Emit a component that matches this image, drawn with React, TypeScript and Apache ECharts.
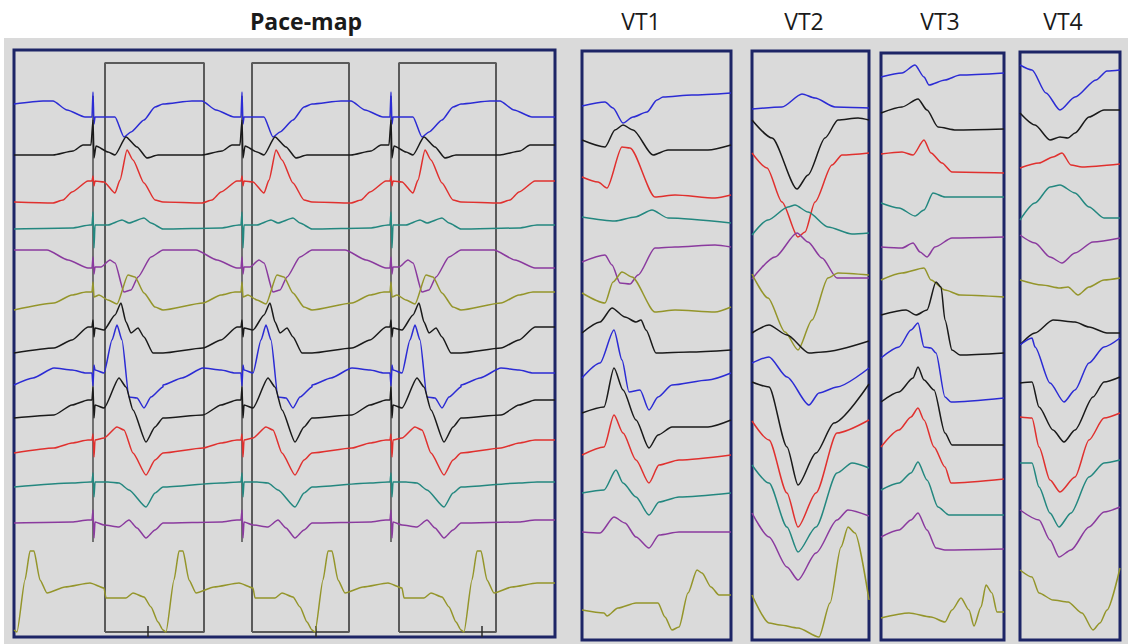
import { useEffect, useRef } from "react";
import * as echarts from "echarts";

// ---------- colours of the 13 leads (top to bottom) ----------
const leadColors = [
  "#2b2bd4", "#1a1a1a", "#e0302e", "#23877f", "#8a3a9e", "#94952a",
  "#1a1a1a", "#2b2bd4", "#1a1a1a", "#e0302e", "#23877f", "#8a3a9e", "#94952a",
];

// ---------- Pace-map: one beat template per lead, [t relative to pacing spike, level] ----------
const paceSpikes = [93, 242, 391];
const pacePeriod = 149;
const paceEnd = 555;
const paceBeat: number[][][] = [
  [[-79,104],[-50,101],[-40,101],[-26,110],[-8,117],[-1,117],[0,92],[1,124],[2,117],[22,117],[31,137],[38,132],[51,120],[62,107],[70,104]],
  [[-79,155],[-40,155],[-20,151],[-10,145],[-2,145],[0,120],[1,158],[3,146],[15,152],[22,155],[33,137],[44,147],[54,158],[65,155],[70,155]],
  [[-79,202],[-40,203],[-30,200],[-21,192],[-5,181],[-1,181],[0,176],[1,186],[2,181],[11,182],[22,193],[27,180],[34,150],[40,160],[51,183],[62,200],[70,202]],
  [[-79,229],[-21,228],[-3,225],[-1,225],[0,212],[1,248],[2,225],[15,225],[29,220],[36,223],[51,218],[58,223],[70,229]],
  [[-79,250],[-46,250],[-25,260],[-5,268],[-1,268],[0,257],[1,274],[2,267],[8,267],[17,260],[22,263],[31,292],[38,290],[45,277],[58,257],[70,250]],
  [[-79,310],[-39,303],[-21,295],[-7,292],[-1,292],[0,282],[1,297],[6,295],[15,300],[24,304],[35,275],[42,277],[51,293],[62,307],[70,310]],
  [[-79,353],[-39,348],[-21,340],[-5,327],[-1,327],[0,320],[1,337],[2,328],[11,330],[22,315],[28,303],[33,322],[38,333],[45,328],[51,337],[60,353],[70,353]],
  [[-79,385],[-60,378],[-39,368],[-21,370],[-7,373],[-1,373],[0,386],[1,365],[2,370],[11,373],[19,340],[24,325],[29,340],[36,397],[44,398],[51,408],[58,397],[70,387]],
  [[-79,418],[-39,415],[-21,405],[-5,400],[-1,400],[0,387],[1,418],[2,405],[11,408],[26,378],[33,387],[40,410],[53,442],[62,427],[70,418]],
  [[-79,453],[-39,448],[-21,443],[-5,440],[-1,440],[0,434],[1,457],[2,440],[11,438],[24,427],[31,430],[40,453],[53,475],[62,460],[70,453]],
  [[-79,487],[-21,483],[-3,482],[-1,482],[0,473],[1,497],[2,482],[15,482],[26,483],[36,490],[53,507],[62,493],[70,487]],
  [[-79,523],[-21,522],[-5,520],[-1,520],[0,510],[1,538],[2,522],[11,525],[26,527],[36,520],[44,528],[53,538],[62,530],[70,523]],
  [[-79,630],[-76,632],[-68,580],[-63,551],[-59,551],[-53,580],[-46,593],[-28,587],[-3,583],[11,588],[13,598],[33,598],[40,593],[51,597],[58,607],[65,622],[70,630]],
];
const paceWindowStarts = [105, 252, 399];
const paceWindowEnds = [204, 349, 496];
const paceWindowTop = 63;
const paceWindowBottom = 632;
const spikeMarkerTop = 96;
const spikeMarkerBottom = 542;
const paceTicks = [148, 316, 482];

// ---------- VT panels: [time, level] per lead ----------
const vt1: number[][][] = [
  [[582,106],[605,102],[613,108],[623,123],[633,117],[647,112],[657,100],[663,97],[692,95],[731,93]],
  [[582,140],[605,147],[615,130],[623,125],[633,130],[653,155],[668,150],[708,150],[731,145]],
  [[582,177],[598,182],[607,188],[622,147],[630,148],[655,197],[675,195],[715,198],[731,195]],
  [[582,217],[615,221],[635,217],[652,210],[668,218],[731,223]],
  [[582,262],[605,255],[612,265],[620,283],[630,284],[638,275],[655,248],[675,247],[715,245],[731,247]],
  [[582,293],[605,303],[613,282],[622,272],[632,277],[655,312],[675,310],[715,312],[731,307]],
  [[582,333],[600,322],[612,308],[625,317],[636,322],[641,320],[646,330],[656,353],[690,352],[731,350]],
  [[582,378],[600,363],[614,330],[622,360],[629,392],[640,390],[649,410],[658,397],[672,385],[708,380],[731,373]],
  [[582,413],[604,407],[614,368],[623,390],[636,420],[649,448],[658,435],[672,427],[708,427],[731,420]],
  [[582,455],[604,447],[614,415],[623,433],[636,460],[649,483],[659,465],[679,460],[731,455]],
  [[582,493],[604,490],[616,470],[623,483],[636,497],[649,515],[659,502],[679,497],[731,493]],
  [[582,532],[600,533],[614,517],[625,523],[636,537],[649,548],[659,535],[679,532],[731,532]],
  [[582,610],[604,613],[607,616],[618,608],[636,603],[658,603],[665,617],[672,630],[679,627],[688,593],[697,570],[702,573],[711,587],[719,595],[731,595]],
];
const vt2: number[][][] = [
  [[752,109],[782,107],[802,94],[815,98],[835,107],[869,108]],
  [[752,120],[772,138],[797,189],[808,175],[825,138],[838,120],[858,118],[869,120]],
  [[752,153],[767,168],[782,202],[798,237],[805,232],[815,202],[832,165],[842,155],[869,153]],
  [[752,235],[768,220],[788,207],[795,205],[808,212],[828,227],[852,234],[869,233]],
  [[752,279],[775,257],[797,233],[808,242],[822,258],[837,278],[869,278]],
  [[752,274],[768,298],[785,332],[798,350],[812,320],[828,278],[838,273],[869,275]],
  [[752,333],[769,325],[787,335],[809,353],[823,352],[869,341]],
  [[752,363],[769,357],[787,377],[809,405],[819,393],[837,387],[869,368]],
  [[752,382],[769,387],[787,447],[798,485],[816,453],[834,423],[869,384]],
  [[752,421],[769,440],[787,493],[798,527],[816,493],[837,433],[869,420]],
  [[752,465],[769,483],[787,527],[798,552],[816,527],[837,473],[852,463],[869,468]],
  [[752,513],[769,537],[787,567],[798,580],[816,553],[837,520],[848,510],[869,516]],
  [[752,595],[769,623],[780,625],[798,628],[819,637],[830,603],[841,547],[848,527],[855,533],[869,600]],
];
const vt3: number[][][] = [
  [[881,77],[902,73],[915,65],[924,77],[929,85],[945,80],[960,75],[1004,73]],
  [[881,113],[902,107],[918,99],[927,110],[938,127],[956,130],[1004,129]],
  [[881,154],[902,152],[913,155],[924,140],[931,153],[942,163],[952,172],[1004,173]],
  [[881,203],[899,208],[915,216],[924,210],[933,193],[945,197],[1004,197]],
  [[881,247],[902,248],[913,243],[920,252],[927,257],[935,247],[952,238],[1004,237]],
  [[881,280],[902,273],[924,268],[931,280],[945,290],[960,295],[1004,297]],
  [[881,315],[906,310],[916,315],[927,310],[936,282],[941,287],[945,320],[952,350],[960,355],[1004,353]],
  [[881,358],[899,347],[911,330],[918,323],[924,347],[931,348],[936,353],[945,397],[951,402],[1004,398]],
  [[881,402],[899,392],[913,378],[918,367],[924,380],[934,390],[945,433],[952,445],[1004,445]],
  [[881,447],[899,430],[911,417],[918,408],[924,420],[934,447],[945,467],[951,483],[1004,479]],
  [[881,490],[899,483],[911,473],[918,462],[927,480],[938,507],[949,515],[1004,515]],
  [[881,537],[899,530],[911,520],[918,513],[927,530],[936,548],[945,550],[1004,549]],
  [[881,618],[909,613],[931,617],[945,622],[952,610],[961,598],[969,610],[974,626],[981,607],[986,585],[992,593],[997,612],[1004,612]],
];
const vt4: number[][][] = [
  [[1020,65],[1032,70],[1046,93],[1060,110],[1075,97],[1096,80],[1107,71],[1120,70]],
  [[1020,113],[1035,125],[1050,140],[1060,137],[1068,138],[1075,133],[1089,117],[1104,110],[1120,110]],
  [[1020,168],[1039,163],[1053,157],[1062,153],[1071,165],[1082,167],[1120,164]],
  [[1020,220],[1035,203],[1050,187],[1060,185],[1075,193],[1089,207],[1104,218],[1120,218]],
  [[1020,235],[1035,243],[1050,257],[1062,263],[1075,253],[1093,242],[1120,238]],
  [[1020,280],[1042,285],[1060,288],[1068,287],[1078,295],[1089,287],[1104,280],[1120,278]],
  [[1020,345],[1035,333],[1053,320],[1075,322],[1089,327],[1107,333],[1120,333]],
  [[1020,345],[1032,338],[1035,347],[1050,383],[1064,402],[1075,390],[1089,363],[1104,347],[1120,338]],
  [[1020,383],[1032,382],[1039,407],[1053,430],[1064,442],[1075,430],[1093,397],[1104,382],[1120,377]],
  [[1020,417],[1032,418],[1039,447],[1050,480],[1060,492],[1075,477],[1089,440],[1104,418],[1120,413]],
  [[1020,463],[1032,463],[1039,487],[1050,513],[1059,527],[1071,513],[1089,477],[1104,463],[1120,460]],
  [[1020,510],[1039,520],[1050,540],[1059,557],[1071,550],[1089,527],[1104,512],[1120,507]],
  [[1020,570],[1032,577],[1039,593],[1053,600],[1068,602],[1082,613],[1093,630],[1100,623],[1107,610],[1120,568]],
];

const panelTitles = ["Pace-map", "VT1", "VT2", "VT3", "VT4"];

// ---------- layout ----------
const panels = [
  { left: 14, top: 50, width: 541, height: 587, titleX: 306 },
  { left: 582, top: 51, width: 149, height: 589, titleX: 641 },
  { left: 752, top: 51, width: 117, height: 589, titleX: 804 },
  { left: 881, top: 53, width: 123, height: 587, titleX: 940 },
  { left: 1020, top: 52, width: 100, height: 588, titleX: 1063 },
];

function buildPaceTrace(beat: number[][]): number[][] {
  const pts: number[][] = [];
  paceSpikes.forEach((s) => beat.forEach(([t, v]) => pts.push([s + t, v])));
  const next = paceSpikes[paceSpikes.length - 1] + pacePeriod;
  const pre = beat.filter(([t]) => t < 0);
  pre.forEach(([t, v]) => pts.push([next + t, v]));
  pts.push([paceEnd, pre[pre.length - 1][1]]);
  return pts;
}

export default function App() {
  const ref = useRef<HTMLDivElement>(null);
  useEffect(() => {
    if (!ref.current) return;
    const chart = echarts.init(ref.current, undefined, { renderer: "svg" });

    const grid = panels.map((p) => ({
      left: p.left, top: p.top, width: p.width, height: p.height,
      show: true, backgroundColor: "#dadada", borderColor: "#1d2566", borderWidth: 3,
      containLabel: false,
    }));
    const xAxis = panels.map((p, i) => ({
      type: "value", gridIndex: i, min: p.left, max: p.left + p.width, show: false,
    }));
    const yAxis = panels.map((p, i) => ({
      type: "value", gridIndex: i, min: p.top, max: p.top + p.height, inverse: true, show: false,
    }));

    const series: any[] = [];
    const base = { type: "line", symbol: "none", showSymbol: false, silent: true, animation: false };

    // analysis windows
    paceWindowStarts.forEach((x0, k) => {
      const x1 = paceWindowEnds[k];
      series.push({
        ...base, xAxisIndex: 0, yAxisIndex: 0,
        data: [[x0, paceWindowBottom], [x0, paceWindowTop], [x1, paceWindowTop], [x1, paceWindowBottom], [x0, paceWindowBottom]],
        lineStyle: { color: "#5a5a5a", width: 2 },
      });
    });
    // pacing spike markers
    paceSpikes.forEach((s) => {
      series.push({
        ...base, xAxisIndex: 0, yAxisIndex: 0,
        data: [[s, spikeMarkerTop], [s, spikeMarkerBottom]],
        lineStyle: { color: "#2a2a2a", width: 1.2 },
      });
    });
    // bottom ticks
    paceTicks.forEach((x) => {
      series.push({
        ...base, xAxisIndex: 0, yAxisIndex: 0,
        data: [[x, 626], [x, 637]],
        lineStyle: { color: "#2a2a2a", width: 1.5 },
      });
    });
    // pace-map traces
    paceBeat.forEach((beat, i) => {
      series.push({
        ...base, xAxisIndex: 0, yAxisIndex: 0,
        data: buildPaceTrace(beat), smooth: 0.2, smoothMonotone: "x",
        lineStyle: { color: leadColors[i], width: 1.5 },
      });
    });
    // VT traces
    [vt1, vt2, vt3, vt4].forEach((panel, pi) => {
      panel.forEach((lead, i) => {
        series.push({
          ...base, xAxisIndex: pi + 1, yAxisIndex: pi + 1,
          data: lead, smooth: 0.25, smoothMonotone: "x",
          lineStyle: { color: leadColors[i], width: 1.5 },
        });
      });
    });

    const graphic: any[] = [
      { type: "rect", z: -10, shape: { x: 4, y: 38, width: 1124, height: 606 }, style: { fill: "#dadada" }, silent: true },
      ...panelTitles.map((t, i) => ({
        type: "text", x: panels[i].titleX, y: 21, z: 10,
        style: {
          text: t, fill: "#1a1a1a", align: "center", verticalAlign: "middle",
          fontFamily: "Open Sans", fontSize: 23, fontWeight: i === 0 ? "bold" : "normal",
        },
      })),
    ];

    chart.setOption({ animation: false, backgroundColor: "#ffffff", grid, xAxis, yAxis, series, graphic });
    return () => chart.dispose();
  }, []);

  return <div ref={ref} style={{ position: "fixed", left: 0, top: 0, width: 1128, height: 644 }} />;
}
